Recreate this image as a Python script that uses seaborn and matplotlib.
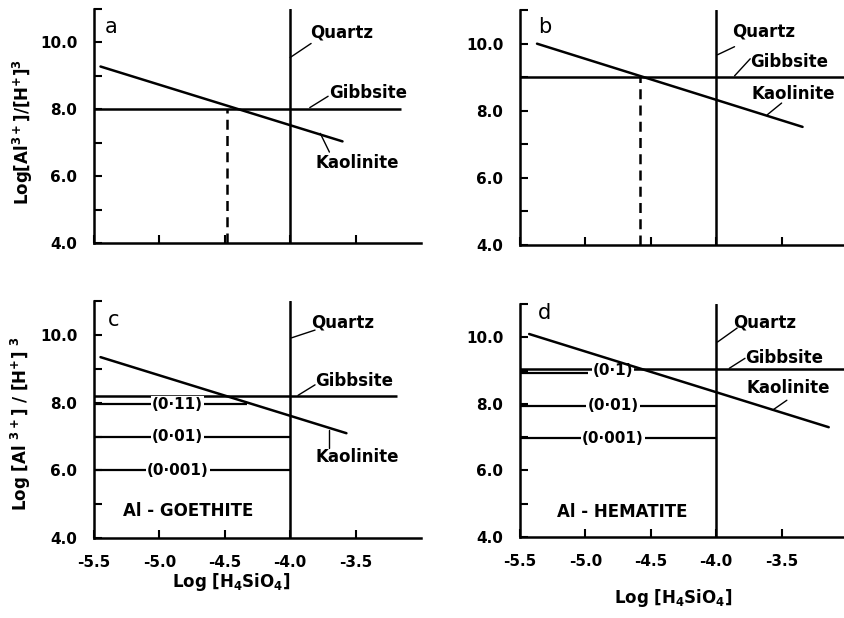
import matplotlib
matplotlib.use('Agg')
import matplotlib.pyplot as plt
import numpy as np
import pandas as pd
import seaborn as sns

# Values (a-d)
panel_tags = ['a', 'b', 'c', 'd']
quartz_x = -4.0
gibbsite_y = [8.0, 9.0, 8.2, 9.05]
gibbsite_xmax = [-3.15, -3.0, -3.18, -3.0]
kaolinite_x = [[-5.45, -3.60], [-5.37, -3.34], [-5.45, -3.57], [-5.43, -3.14]]
kaolinite_y = [[9.28, 7.04], [10.0, 7.52], [9.35, 7.10], [10.1, 7.30]]

# dashed drop line from the gibbsite / kaolinite crossing (a, b)
drop_x = [-4.48, -4.58]
drop_y = [8.0, 9.0]

# Al-substituted goethite (c) and hematite (d), mole fraction in brackets
goethite_labels = ['(0·11)', '(0·01)', '(0·001)']
goethite_y = [7.95, 7.0, 6.0]
goethite_xmax = [-4.33, -4.0, -4.0]
hematite_labels = ['(0·1)', '(0·01)', '(0·001)']
hematite_y = [8.93, 7.95, 6.97]
hematite_xmax = [-4.98, -4.0, -4.0]

x_ticks = [-5.5, -5.0, -4.5, -4.0, -3.5]
x_ticklabels = ['-5.5', '-5.0', '-4.5', '-4.0', '-3.5']
y_ticks = [4, 5, 6, 7, 8, 9, 10, 11]
y_ticklabels = ['4.0', '', '6.0', '', '8.0', '', '10.0', '']

sns.set_theme(style='ticks')
plt.rcParams['font.family'] = ['DejaVu Sans']
plt.rcParams['font.weight'] = 'bold'
plt.rcParams['mathtext.fontset'] = 'dejavusans'
plt.rcParams['mathtext.default'] = 'bf'
for key in ['text.color', 'axes.labelcolor', 'xtick.color', 'ytick.color', 'axes.edgecolor']:
    plt.rcParams[key] = 'black'

fig = plt.figure(figsize=(8.45, 6.18), dpi=100)
# axes rectangles in figure fractions
rects = [
    [0.1112, 0.6068, 0.387, 0.3786],
    [0.6154, 0.6036, 0.387, 0.380],
    [0.1112, 0.1294, 0.387, 0.383],
    [0.6154, 0.1310, 0.387, 0.377],
]
axes = [fig.add_axes(r) for r in rects]

# long table of kaolinite lines for seaborn
kao = pd.DataFrame({
    'panel': np.repeat(panel_tags, 2),
    'x': np.ravel(kaolinite_x),
    'y': np.ravel(kaolinite_y),
})

# label positions (data coords): text x, text y, leader start, leader end
label_pos = {
    'a': {'Quartz': (-3.85, 10.30, (-4.0, 9.55), (-3.84, 9.97)),
          'Gibbsite': (-3.70, 8.48, (-3.85, 8.05), (-3.71, 8.39)),
          'Kaolinite': (-3.81, 6.39, (-3.77, 7.28), (-3.70, 6.72))},
    'b': {'Quartz': (-3.88, 10.36, (-3.99, 9.67), (-3.86, 9.91)),
          'Gibbsite': (-3.74, 9.46, (-3.86, 9.04), (-3.74, 9.55)),
          'Kaolinite': (-3.73, 8.50, (-3.61, 7.88), (-3.50, 8.23))},
    'c': {'Quartz': (-3.84, 10.36, (-3.99, 9.92), (-3.81, 10.15)),
          'Gibbsite': (-3.81, 8.65, (-3.94, 8.22), (-3.81, 8.53)),
          'Kaolinite': (-3.81, 6.40, (-3.70, 7.20), (-3.70, 6.66))},
    'd': {'Quartz': (-3.87, 10.45, (-3.99, 9.86), (-3.84, 10.28)),
          'Gibbsite': (-3.78, 9.37, (-3.90, 9.07), (-3.78, 9.37)),
          'Kaolinite': (-3.77, 8.47, (-3.57, 7.81), (-3.46, 8.11))},
}
letter_pos = {'a': (-5.42, 10.45), 'b': (-5.36, 10.5), 'c': (-5.39, 10.45), 'd': (-5.36, 10.72)}

lw = 1.8
for i, (ax, tag) in enumerate(zip(axes, panel_tags)):
    sns.lineplot(data=kao[kao['panel'] == tag], x='x', y='y', color='black',
                 linewidth=lw, ax=ax, legend=False, zorder=6)
    ax.hlines(gibbsite_y[i], -5.5, gibbsite_xmax[i], color='black', linewidth=lw)
    ax.axvline(quartz_x, color='black', linewidth=lw)
    if i < 2:
        ax.vlines(drop_x[i], 4.0, drop_y[i], color='black', linewidth=lw,
                  linestyles=(0, (4, 2.5)))

    if tag == 'c':
        labs, ys, xm, lx = goethite_labels, goethite_y, goethite_xmax, -4.86
    elif tag == 'd':
        labs, ys, xm, lx = hematite_labels, hematite_y, hematite_xmax, -4.79
    else:
        labs, ys, xm, lx = [], [], [], 0
    for lab, yv, xe in zip(labs, ys, xm):
        ax.hlines(yv, -5.5, xe, color='black', linewidth=1.6)
        ty = yv + 0.07 if lab == '(0·1)' else yv
        ax.text(lx, ty, lab, ha='center', va='center', fontsize=11, fontweight='bold',
                bbox=dict(facecolor='white', edgecolor='none', pad=0.8), zorder=5)

    if tag == 'c':
        ax.text(-5.28, 4.8, 'Al - GOETHITE', fontsize=12, fontweight='bold', va='center')
    if tag == 'd':
        ax.text(-5.22, 4.75, 'Al - HEMATITE', fontsize=12, fontweight='bold', va='center')

    for name, (tx, ty, p0, p1) in label_pos[tag].items():
        ax.text(tx, ty, name, fontsize=12, fontweight='bold', ha='left', va='center')
        ax.plot([p0[0], p1[0]], [p0[1], p1[1]], color='black', linewidth=1.0)

    lx0, ly0 = letter_pos[tag]
    ax.text(lx0, ly0, tag, fontsize=15, fontweight='normal', ha='left', va='center')

    ax.set_xlim(-5.5, -3.0)
    ax.set_ylim(4.0, 11.0)
    ax.set_xticks(x_ticks)
    ax.set_yticks(y_ticks)
    ax.set_yticklabels(y_ticklabels, fontsize=11, fontweight='bold')
    if i >= 2:
        ax.set_xticklabels(x_ticklabels, fontsize=11, fontweight='bold')
        ax.set_xlabel(r'Log [H$_{4}$SiO$_{4}$]', fontsize=12, fontweight='bold')
    else:
        ax.set_xticklabels([])
        ax.set_xlabel('')
    ax.set_ylabel('')
    ax.tick_params(axis='both', direction='in', length=6, width=1.5, color='black')
    ax.tick_params(axis='y', pad=12)
    ax.tick_params(axis='x', pad=12)
    sns.despine(ax=ax)
    for s in ['left', 'bottom']:
        ax.spines[s].set_linewidth(1.8)
        ax.spines[s].set_color('black')
    ax.set_facecolor('white')

ylab = r'Log[Al$^{3+}$]/[H$^{+}$]$^{3}$'
axes[0].set_ylabel(ylab, fontsize=12, fontweight='bold')
axes[0].yaxis.set_label_coords(-0.18, 0.474)
axes[2].set_ylabel(r'Log [Al $^{3+}$] / [H$^{+}$] $^{3}$', fontsize=12, fontweight='bold')
axes[2].yaxis.set_label_coords(-0.185, 0.485)
axes[2].xaxis.set_label_coords(0.42, -0.14)
axes[3].xaxis.set_label_coords(0.47, -0.215)

fig.savefig('out.png', dpi=100, facecolor='white')
